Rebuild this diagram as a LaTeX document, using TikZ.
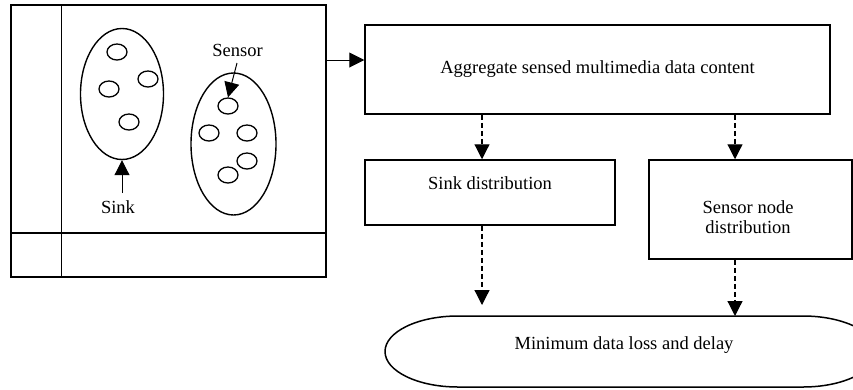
\documentclass[tikz,border=0pt]{standalone}
\usepackage{fontspec}
\setmainfont{Liberation Serif}
\usetikzlibrary{arrows.meta,shapes.geometric}
\begin{document}
\begin{tikzpicture}[x=1pt,y=-1pt,
  every node/.style={font=\fontsize{18.5}{20.5}\selectfont},
  box/.style={draw, line width=1.5pt, inner sep=0pt},
  solidarr/.style={line width=1pt, -{Triangle[length=15pt,width=15pt]}},
  dasharr/.style={line width=1.2pt, dash pattern=on 5pt off 3pt, -{Triangle[length=15pt,width=15pt]}},
  blob/.style={draw, ellipse, line width=1.4pt, inner sep=0pt},
  dot/.style={draw, ellipse, line width=1.3pt, minimum width=20pt, minimum height=16pt, inner sep=0pt}]
\clip (0,0) rectangle (853,389);
% left frame
\node[box, minimum width=315pt, minimum height=272pt] (frame) at (168.5,141) {};
\draw[line width=1.5pt] ([xshift=51pt]frame.north west) -- ([xshift=51pt]frame.south west);
\draw[line width=1.5pt] ([yshift=45pt]frame.south west) -- ([yshift=45pt]frame.south east);
% clusters
\node[blob, minimum width=83pt, minimum height=131pt] (groupA) at (122,94) {};
\node[blob, minimum width=85pt, minimum height=142pt] (groupB) at (233.5,144) {};
\node[dot] (a1) at (117,52) {};
\node[dot] (a2) at (109,89) {};
\node[dot] (a3) at (148,79) {};
\node[dot] (a4) at (129,122) {};
\node[dot] (b1) at (228,106) {};
\node[dot] (b2) at (209,133) {};
\node[dot] (b3) at (247,133) {};
\node[dot] (b4) at (247,161) {};
\node[dot] (b5) at (228,175) {};
\node (sinklbl) at (118,207) {Sink};
\node (sensorlbl) at (237.5,50) {Sensor};
\coordinate (sinktail) at (122,193);
\coordinate (sensortail) at (237,63);
\draw[solidarr] (sinktail) -- (groupA.south);
\draw[solidarr] (sensortail) -- (b1.north);
% right part
\node[box, minimum width=465pt, minimum height=89pt] (agg) at (597.5,69.5) {Aggregate sensed multimedia data content};
\coordinate (armlevel) at (0,60);
\draw[solidarr] (frame.east |- armlevel) -- (agg.west |- armlevel);
\node[box, minimum width=250pt, minimum height=65pt] (sinkbox) at (490,192.5) {};
\node (sinktext) at (490,183) {Sink distribution};
\node[box, minimum width=203pt, minimum height=99pt] (sensbox) at (750.5,209.5) {};
\node[align=center] (senstext) at (748,217) {Sensor node\\distribution};
% goal
\draw[line width=1.5pt] (458,316) -- (803,316)
  arc[start angle=-90, end angle=90, x radius=73, y radius=35.5] -- (458,387)
  arc[start angle=90, end angle=270, x radius=73, y radius=35.5] -- cycle;
\node (goal) at (624,345) {Minimum data loss and delay};
\coordinate (goaltop) at (620,316);
\coordinate (colA) at (482,0);
\coordinate (colB) at (735,0);
\draw[dasharr] (agg.south -| colA) -- (sinkbox.north -| colA);
\draw[dasharr] (agg.south -| colB) -- (sensbox.north -| colB);
\draw[dasharr, shorten >=11pt] (sinkbox.south -| colA) -- (goaltop -| colA);
\draw[dasharr] (sensbox.south -| colB) -- (goaltop -| colB);
\end{tikzpicture}
\end{document}
